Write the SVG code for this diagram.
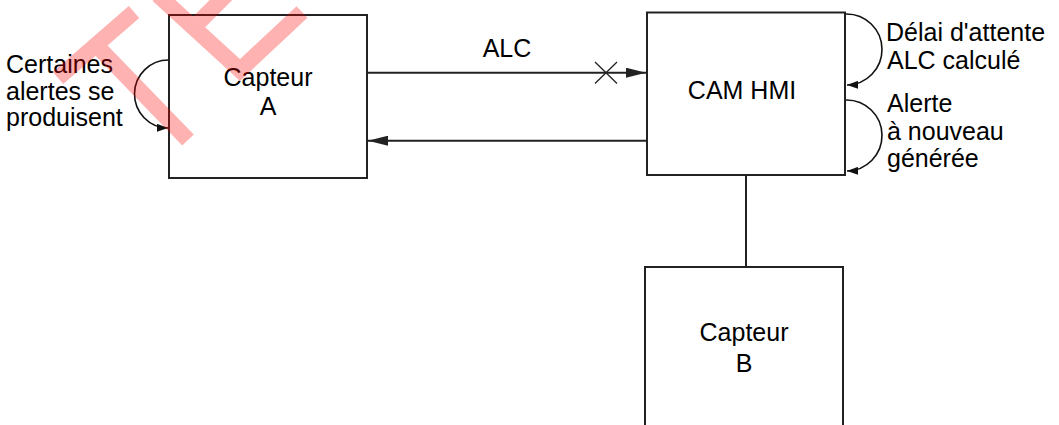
<svg xmlns="http://www.w3.org/2000/svg" width="1059" height="425" viewBox="0 0 1059 425">
<defs>
<style>
.box{fill:#fff;stroke:#222;stroke-width:2}
.ln{fill:none;stroke:#222;stroke-width:2}
.thin{fill:none;stroke:#222;stroke-width:1.3}
.arc{fill:none;stroke:#111;stroke-width:1.6}
text{font-family:"Liberation Sans",Arial,sans-serif;font-size:25px;fill:#000}
.c{text-anchor:middle}
.wm{fill:none;stroke:#ff0000;stroke-opacity:0.3;stroke-width:16;stroke-linecap:butt;stroke-linejoin:miter}
</style>
<marker id="ah" viewBox="0 0 20 10" refX="20" refY="5" markerWidth="20" markerHeight="10" markerUnits="userSpaceOnUse" orient="auto">
<path d="M0,0 L20,5 L0,10 Z" fill="#222"/>
</marker>
<marker id="ah2" viewBox="0 0 11 8" refX="11" refY="4" markerWidth="11" markerHeight="8" markerUnits="userSpaceOnUse" orient="auto">
<path d="M0,0 L11,4 L0,8 Z" fill="#111"/>
</marker>
</defs>
<rect width="1059" height="425" fill="#fff"/>

<g id="connectors">
<line class="ln" x1="368" y1="72.7" x2="646" y2="72.7" marker-end="url(#ah)"/>
<path class="thin" d="M595,62 L617,83.5 M595,83.5 L617,62"/>
<line class="ln" x1="646" y1="140.7" x2="368" y2="140.7" marker-end="url(#ah)"/>
<line class="ln" x1="746" y1="175" x2="746" y2="267"/>
<path class="arc" d="M169,60 A34,34 0 0 0 168,128" marker-end="url(#ah2)"/>
<path class="arc" d="M846,14 A35.5,35.5 0 0 1 847,85" marker-end="url(#ah2)"/>
<path class="arc" d="M846,100 A35.5,35.5 0 0 1 847,171" marker-end="url(#ah2)"/>
</g>

<g id="node-capteur-a">
<rect class="box" x="169" y="15" width="198" height="163"/>
<text class="c" x="268" y="86">Capteur</text>
<text class="c" x="268" y="115">A</text>
</g>

<g id="node-cam-hmi">
<rect class="box" x="647" y="12.5" width="198" height="162.5"/>
<text class="c" x="742" y="99">CAM HMI</text>
</g>

<g id="node-capteur-b">
<rect class="box" x="645" y="267" width="198" height="200"/>
<text class="c" x="744" y="341">Capteur</text>
<text class="c" x="744" y="372">B</text>
</g>

<g id="labels">
<text class="c" x="507" y="57">ALC</text>
<text x="6" y="73">Certaines</text>
<text x="6" y="100">alertes se</text>
<text x="6" y="126">produisent</text>
<text x="886" y="41">Délai d'attente</text>
<text x="887" y="69">ALC calculé</text>
<text x="887" y="112">Alerte</text>
<text x="887" y="140">à nouveau</text>
<text x="887" y="167">générée</text>
</g>

<g id="watermark">
<path class="wm" d="M58,78 L134,12 M96,45 L188,140"/>
<path class="wm" d="M158,-5 L240,70 L302,12 M193,28 L228,-7"/>
</g>
</svg>
